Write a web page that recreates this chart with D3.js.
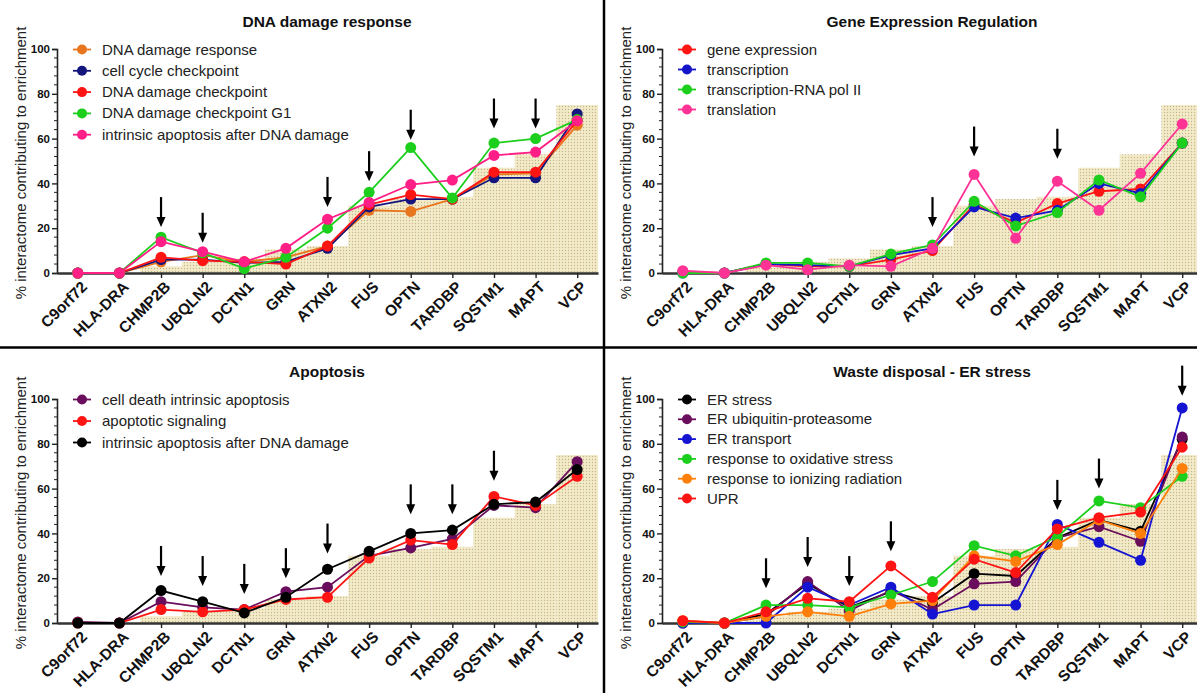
<!DOCTYPE html>
<html>
<head>
<meta charset="utf-8">
<script src="https://cdn.jsdelivr.net/npm/d3@7"></script>
<style>
  body { margin: 0; background: #fff; }
  svg { display: block; font-family: Arial, "Liberation Sans", sans-serif; }
</style>
</head>
<body>
<svg id="chart" width="1197" height="693"></svg>
<script>
const categories = ['C9orf72', 'HLA-DRA', 'CHMP2B', 'UBQLN2', 'DCTN1', 'GRN', 'ATXN2', 'FUS', 'OPTN', 'TARDBP', 'SQSTM1', 'MAPT', 'VCP'];
const yTicks = [0, 20, 40, 60, 80, 100];

// shaded step area behind every panel
const backgroundSteps = [0, 0, 3, 5, 6.5, 10.5, 12, 30, 33, 34, 47, 53, 75];

// DNA damage response panel
const dnaDamageResponse      = [0, 0, 5, 8, 5, 7, 12, 28, 27.5, 33, 44, 44.5, 66];
const cellCycleCheckpoint    = [0, 0, 6, 6, 4.5, 5, 11, 29.5, 33, 33, 42.5, 42.5, 71];
const dnaDamageCheckpoint    = [0, 0, 7, 5.5, 5, 4, 12, 30.5, 35, 33, 45, 45, 68];
const dnaDamageCheckpointG1  = [0, 0, 16, 9, 2, 7, 20, 36, 56, 33.5, 58, 60, 68.5];
const intrinsicApoptosisDna  = [0, 0, 14, 9.5, 5, 11, 24, 31.5, 39.5, 41.5, 52.5, 54, 68];
const arrowsDna = [['CHMP2B', 20.5], ['UBQLN2', 13.5], ['ATXN2', 29.5], ['FUS', 41], ['OPTN', 59.5], ['SQSTM1', 64.5], ['MAPT', 64.5]];

// Gene expression regulation panel
const geneExpression         = [0.5, 0, 4, 3, 3, 6, 10, 30.5, 22.5, 31, 36.5, 37.5, 58];
const transcription          = [0, 0, 4, 3.5, 3, 8, 11, 29.5, 24.5, 28, 40, 35.5, 58];
const transcriptionPolII     = [0, 0, 4.5, 4.5, 3, 8.5, 12.5, 32, 21, 27, 41.5, 34, 58];
const translation            = [1, 0, 3.5, 1.5, 3.5, 3, 11, 44, 15.5, 41, 28, 44.5, 66.5];
const arrowsGene = [['ATXN2', 20.5], ['FUS', 52], ['TARDBP', 51]];

// Apoptosis panel
const cellDeathIntrinsic     = [0.5, 0, 9.5, 7, 6, 14, 16, 30, 33.5, 37.5, 52.5, 51.5, 72];
const apoptoticSignaling     = [0, 0, 6, 5, 6, 10.5, 11.5, 29, 37, 35, 56.5, 52.5, 65.5];
const intrinsicApoptosisApo  = [0, 0, 14.5, 9.5, 4.5, 11.5, 24, 32, 40, 41.5, 53, 54, 68.5];
const arrowsApo = [['CHMP2B', 21], ['UBQLN2', 16.5], ['DCTN1', 13], ['GRN', 20], ['ATXN2', 31], ['OPTN', 48.5], ['TARDBP', 48.5], ['SQSTM1', 63.5]];

// Waste disposal - ER stress panel
const erStress               = [0.5, 0, 4, 17.5, 7, 14, 9, 22, 21, 38, 46, 41, 82];
const erUbiquitin            = [0, 0, 3, 18.5, 5.5, 14.5, 6, 17.5, 18.5, 38, 43, 36.5, 83];
const erTransport            = [0, 0, 0, 16, 8, 16, 4, 8, 8, 44, 36, 28, 96];
const oxidativeStress        = [0.5, 0, 8, 8, 7, 12.5, 18.5, 34.5, 30, 38.5, 54.5, 51.5, 65.5];
const ionizingRadiation      = [1, 0, 3, 5, 3, 8.5, 10, 30, 27.5, 35, 46, 40, 69];
const upr                    = [1, 0, 5, 11, 9.5, 25.5, 11.5, 28.5, 22.5, 42, 47, 49.5, 78.5];
const arrowsEr = [['CHMP2B', 15.5], ['UBQLN2', 25], ['DCTN1', 16.5], ['GRN', 32], ['TARDBP', 50.5], ['SQSTM1', 60], ['VCP', 101.5]];

const panels = [
    {
        title: 'DNA damage response', ox: 0, oy: 0, legendStep: 21.3,
        series: [
            { name: 'DNA damage response', color: '#e8761e', values: dnaDamageResponse },
            { name: 'cell cycle checkpoint', color: '#15157e', values: cellCycleCheckpoint },
            { name: 'DNA damage checkpoint', color: '#ff1414', values: dnaDamageCheckpoint },
            { name: 'DNA damage checkpoint G1', color: '#1ccf1c', values: dnaDamageCheckpointG1 },
            { name: 'intrinsic apoptosis after DNA damage', color: '#ff1f86', values: intrinsicApoptosisDna }
        ],
        arrows: arrowsDna
    },
    {
        title: 'Gene Expression Regulation', ox: 605, oy: 0, legendStep: 20,
        series: [
            { name: 'gene expression', color: '#ff1414', values: geneExpression },
            { name: 'transcription', color: '#1414c8', values: transcription },
            { name: 'transcription-RNA pol II', color: '#1ccf1c', values: transcriptionPolII },
            { name: 'translation', color: '#ff3396', values: translation }
        ],
        arrows: arrowsGene
    },
    {
        title: 'Apoptosis', ox: 0, oy: 350, legendStep: 21.5,
        series: [
            { name: 'cell death intrinsic apoptosis', color: '#6a0d5c', values: cellDeathIntrinsic },
            { name: 'apoptotic signaling', color: '#ff1414', values: apoptoticSignaling },
            { name: 'intrinsic apoptosis after DNA damage', color: '#000000', values: intrinsicApoptosisApo }
        ],
        arrows: arrowsApo
    },
    {
        title: 'Waste disposal - ER stress', ox: 605, oy: 350, legendStep: 19.8,
        series: [
            { name: 'ER stress', color: '#000000', values: erStress },
            { name: 'ER ubiquitin-proteasome', color: '#6a0d5c', values: erUbiquitin },
            { name: 'ER transport', color: '#1414d2', values: erTransport },
            { name: 'response to oxidative stress', color: '#1ccf1c', values: oxidativeStress },
            { name: 'response to ionizing radiation', color: '#ff7f0a', values: ionizingRadiation },
            { name: 'UPR', color: '#ff1414', values: upr }
        ],
        arrows: arrowsEr
    }
];

const svg = d3.select('#chart');

// dotted beige fill
const defs = svg.append('defs');
const pat = defs.append('pattern')
    .attr('id', 'dots')
    .attr('patternUnits', 'userSpaceOnUse')
    .attr('width', 3)
    .attr('height', 3);
pat.append('rect').attr('width', 3).attr('height', 3).attr('fill', '#f3eac8');
pat.append('circle').attr('cx', 1.5).attr('cy', 1.5).attr('r', 0.7).attr('fill', '#c4b78e');

function drawPanel( p ) {
    const g = svg.append('g').attr('transform', `translate(${p.ox},${p.oy})`);

    const x = d3.scalePoint()
        .domain(categories)
        .range([57, 598])
        .padding(0.5);

    const y = d3.scaleLinear()
        .domain([0, 100])
        .range([273, 49]);

    const step = x.step();

    // title
    g.append('text')
        .attr('x', 327)
        .attr('y', 27)
        .attr('text-anchor', 'middle')
        .style('font-size', '15.5px')
        .style('font-weight', 'bold')
        .attr('fill', '#111')
        .text(p.title);

    // background steps
    g.append('g')
        .selectAll('rect')
        .data(categories.map((c, i) => ({ c: c, v: backgroundSteps[i] })).filter(d => d.v > 0))
        .enter()
        .append('rect')
        .attr('x', d => x(d.c) - step / 2)
        .attr('y', d => y(d.v))
        .attr('width', step)
        .attr('height', d => y(0) - y(d.v))
        .attr('fill', 'url(#dots)');

    // y axis
    const yAxis = g.append('g')
        .attr('transform', 'translate(57,0)')
        .call(d3.axisLeft(y).tickValues(yTicks).tickSize(5).tickPadding(2));
    yAxis.select('.domain').attr('stroke', '#222').attr('stroke-width', 1.6);
    yAxis.selectAll('.tick line').attr('stroke', '#222').attr('stroke-width', 1.4);
    yAxis.selectAll('.tick text')
        .style('font-size', '11.5px')
        .style('font-weight', 'bold')
        .style('font-family', 'Arial, "Liberation Sans", sans-serif')
        .attr('fill', '#111');

    // minor ticks
    g.append('g')
        .selectAll('line')
        .data(d3.range(0, 101, 4).filter(v => v % 20 !== 0))
        .enter()
        .append('line')
        .attr('x1', 54)
        .attr('x2', 57)
        .attr('y1', d => y(d))
        .attr('y2', d => y(d))
        .attr('stroke', '#222')
        .attr('stroke-width', 1);

    // x axis
    const xAxis = g.append('g')
        .attr('transform', `translate(0,${y(0)})`)
        .call(d3.axisBottom(x).tickSize(5).tickSizeOuter(0));
    xAxis.select('.domain').attr('stroke', '#333').attr('stroke-width', 2.4);
    xAxis.selectAll('.tick line').attr('stroke', '#222').attr('stroke-width', 1.4);
    xAxis.selectAll('.tick text')
        .attr('transform', 'translate(6,11) rotate(-45)')
        .attr('text-anchor', 'end')
        .attr('dy', '0.35em')
        .attr('y', 0)
        .style('font-size', '15.5px')
        .style('font-weight', 'bold')
        .style('font-family', 'Arial, "Liberation Sans", sans-serif')
        .attr('fill', '#111');

    // y label
    g.append('text')
        .attr('transform', `translate(26,${(y(0) + y(100)) / 2 + 2}) rotate(-90)`)
        .attr('text-anchor', 'middle')
        .style('font-size', '15px')
        .attr('fill', '#222')
        .text('% interactome contributing to enrichment');

    // series
    const line = d3.line()
        .x((d, i) => x(categories[i]))
        .y(d => y(d));

    for( let s of p.series ) {
        g.append('path')
            .datum(s.values)
            .attr('d', line)
            .attr('fill', 'none')
            .attr('stroke', s.color)
            .attr('stroke-width', 1.8);

        g.append('g')
            .selectAll('circle')
            .data(s.values)
            .enter()
            .append('circle')
            .attr('cx', (d, i) => x(categories[i]))
            .attr('cy', d => y(d))
            .attr('r', 5.5)
            .attr('fill', s.color);
    }

    // arrows
    const arrowLen = 30;
    for( let a of p.arrows ) {
        const ax = x(a[0]);
        const ay = y(a[1]);
        g.append('line')
            .attr('x1', ax)
            .attr('x2', ax)
            .attr('y1', ay - arrowLen)
            .attr('y2', ay - 8)
            .attr('stroke', '#000')
            .attr('stroke-width', 2.2);
        g.append('path')
            .attr('d', `M${ax - 4.5},${ay - 10} L${ax + 4.5},${ay - 10} L${ax},${ay} Z`)
            .attr('fill', '#000');
    }

    // legend
    const legend = g.append('g');
    p.series.forEach((s, i) => {
        const ly = 49.5 + i * p.legendStep;
        legend.append('line')
            .attr('x1', 73).attr('x2', 91)
            .attr('y1', ly).attr('y2', ly)
            .attr('stroke', s.color)
            .attr('stroke-width', 1.8);
        legend.append('circle')
            .attr('cx', 82).attr('cy', ly)
            .attr('r', 5)
            .attr('fill', s.color);
        legend.append('text')
            .attr('x', 102)
            .attr('y', ly + 5)
            .style('font-size', '15px')
            .attr('fill', '#222')
            .text(s.name);
    });
}

for( let p of panels ) {
    drawPanel(p);
}

// panel dividers
svg.append('line')
    .attr('x1', 0).attr('x2', 1197)
    .attr('y1', 347.5).attr('y2', 347.5)
    .attr('stroke', '#000').attr('stroke-width', 2.5);
svg.append('line')
    .attr('x1', 604).attr('x2', 604)
    .attr('y1', 0).attr('y2', 693)
    .attr('stroke', '#000').attr('stroke-width', 2.5);
</script>
</body>
</html>
